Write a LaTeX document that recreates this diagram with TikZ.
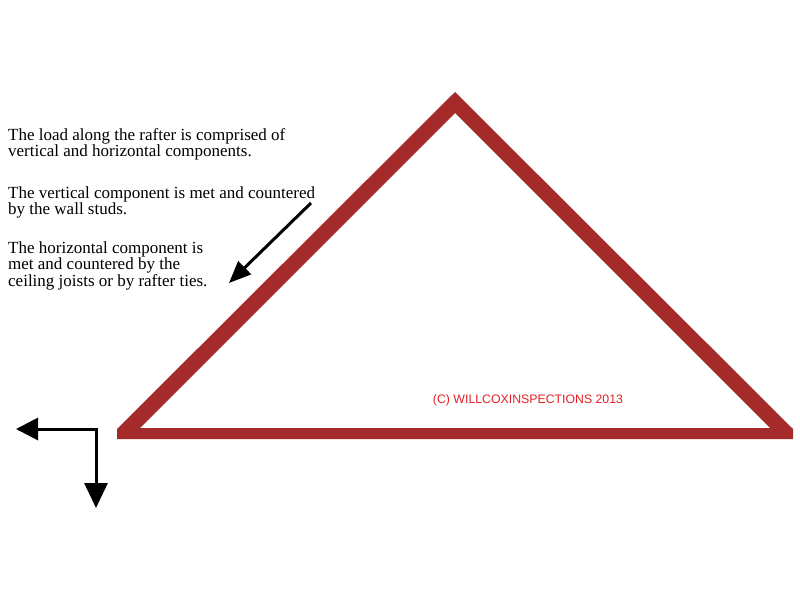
\documentclass[tikz,border=0pt]{standalone}
\usepackage{fontspec}
\setmainfont{Liberation Serif}
\newfontfamily\credfont{Liberation Sans}
\usetikzlibrary{arrows.meta}
\definecolor{rafter}{RGB}{165,42,42}
\definecolor{credred}{RGB}{228,32,38}
\tikzset{
  note/.style={anchor=north west, inner sep=0pt, align=left, font=\fontsize{17}{16.6}\selectfont},
  force/.style={line width=3pt, black},
}
\begin{document}
\begin{tikzpicture}[x=1pt,y=-1pt]
\useasboundingbox (0,0) rectangle (800,600);
\fill[white] (0,0) rectangle (800,600);
% rafters and ceiling joist
\fill[rafter, even odd rule]
  (455,92) -- (117,429) -- (117,439) -- (793,439) -- (793,429) -- cycle
  (455,113) -- (140,428) -- (770,428) -- cycle;
% text
\node[note] (p1) at (8,128) {The load along the rafter is comprised of\\vertical and horizontal components.};
\node[note] (p2) at (8,186) {The vertical component is met and countered\\by the wall studs.};
\node[note] (p3) at (8,241.3) {The horizontal component is\\met and countered by the\\ceiling joists or by rafter ties.};
\node[font=\credfont\fontsize{12.3}{14}\selectfont, text=credred, inner sep=0pt] (cr) at (528,400) {(C) WILLCOXINSPECTIONS 2013};
% load arrow
\coordinate (la) at (311,203);
\coordinate (lb) at (229,283);
\draw[force, -{Triangle[length=22pt,width=18pt]}] (la) -- (lb);
% components
\coordinate (corner) at (96,429);
\coordinate (hend) at (16,429);
\coordinate (vend) at (96,508);
\draw[force, {Triangle[length=22pt,width=22pt]}-{Triangle[length=25pt,width=23pt]}] (hend) -- (corner) -- (vend);
\end{tikzpicture}
\end{document}
